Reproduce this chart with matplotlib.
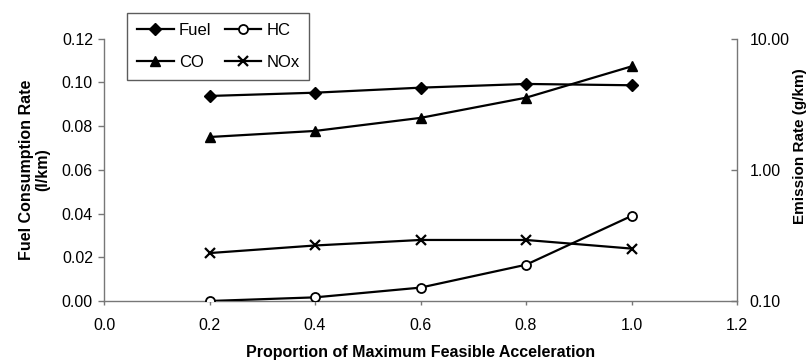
import matplotlib
matplotlib.use("Agg")
import matplotlib.pyplot as plt
from matplotlib.ticker import FixedLocator, FormatStrFormatter, NullLocator

plt.rcParams['font.family'] = ['Liberation Sans', 'DejaVu Sans']

x = [0.2, 0.4, 0.6, 0.8, 1.0]
fuel = [0.0938, 0.0953, 0.0976, 0.0993, 0.0987]
hc = [0.100, 0.1066, 0.1265, 0.189, 0.445]
co = [1.78, 1.98, 2.49, 3.55, 6.15]
nox = [0.232, 0.265, 0.292, 0.292, 0.251]

xticks = [0.0, 0.2, 0.4, 0.6, 0.8, 1.0, 1.2]
yticks_left = [0.00, 0.02, 0.04, 0.06, 0.08, 0.10, 0.12]
yticks_right = [0.1, 1.0, 10.0]

fig = plt.figure(figsize=(8.08, 3.62), dpi=100)
ax = fig.add_axes([104/808, 1-301/362, (737-104)/808, (301-38.7)/362])
ax2 = ax.twinx()

axis_col = '#777777'
lw = 1.6
ms = 6.5

l_fuel, = ax.plot(x, fuel, color='black', lw=lw, marker='D', ms=6, mfc='black', mec='black', label='Fuel')
l_hc, = ax2.plot(x, hc, color='black', lw=lw, marker='o', ms=ms, mfc='white', mec='black', mew=1.3, label='HC')
l_co, = ax2.plot(x, co, color='black', lw=lw, marker='^', ms=ms+1, mfc='black', mec='black', label='CO')
l_nox, = ax2.plot(x, nox, color='black', lw=lw, marker='x', ms=ms+1, mew=1.6, mec='black', label='NOx')

ax.set_xlim(0, 1.2)
ax.set_ylim(0, 0.12)
ax.set_xticks(xticks)
ax.set_yticks(yticks_left)
ax.xaxis.set_major_formatter(FormatStrFormatter('%.1f'))
ax.yaxis.set_major_formatter(FormatStrFormatter('%.2f'))

ax2.set_yscale('log')
ax2.set_ylim(0.1, 10)
ax2.yaxis.set_major_locator(FixedLocator(yticks_right))
ax2.yaxis.set_minor_locator(NullLocator())
ax2.yaxis.set_major_formatter(FormatStrFormatter('%.2f'))

for a in (ax, ax2):
    a.spines['top'].set_visible(False)
    for s in a.spines.values():
        s.set_color(axis_col)
        s.set_linewidth(1.0)
ax.spines['right'].set_visible(False)
ax2.spines['left'].set_visible(False)
ax2.spines['bottom'].set_visible(False)

ax.tick_params(axis='both', direction='out', length=4, width=1, color=axis_col,
               labelsize=11.5, pad=4)
ax.tick_params(axis='x', length=3, pad=9)
ax2.tick_params(axis='y', direction='in', length=4, width=1, color=axis_col,
                labelsize=11.5, pad=9)

ax.set_xlabel('Proportion of Maximum Feasible Acceleration', fontsize=11.5,
              fontweight='bold', labelpad=9)
ax.set_ylabel('Fuel Consumption Rate\n(l/km)', fontsize=11.5, fontweight='bold',
              linespacing=1.05)
ax.yaxis.set_label_coords((50-104)/633, 0.5)

ax2.set_ylabel('Emission Rate (g/km)', fontsize=11, fontweight='bold')
ax2.yaxis.set_label_coords((793-104)/633, (301-146)/262.3)

leg = fig.legend([l_fuel, l_co, l_hc, l_nox], ['Fuel', 'CO', 'HC', 'NOx'],
                 ncol=2, loc='upper left', bbox_to_anchor=(127/808, 1-13/362),
                 fontsize=12, frameon=True, fancybox=False, handlelength=2.2,
                 handletextpad=0.3, columnspacing=0.8, labelspacing=1.0,
                 borderpad=0.6, borderaxespad=0)
leg.get_frame().set_edgecolor('#333333')
leg.get_frame().set_linewidth(1.0)

fig.savefig('out.png', dpi=100)
